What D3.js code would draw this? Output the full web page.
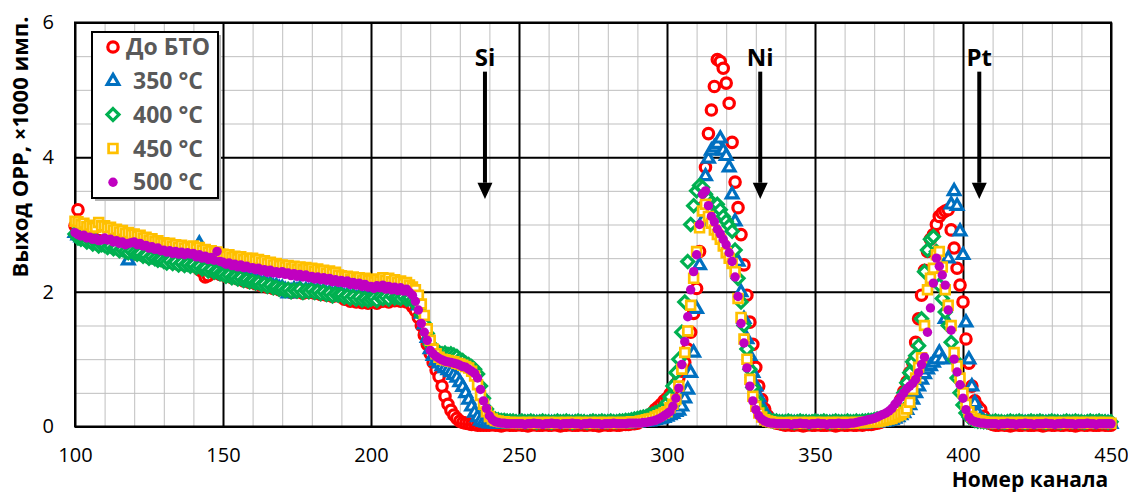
<!DOCTYPE html>
<html>
<head>
<meta charset="utf-8">
<script src="https://cdnjs.cloudflare.com/ajax/libs/d3/7.8.5/d3.min.js"></script>
<style>
  body { margin: 0; background: #fff; }
  text { font-family: "Open Sans", "Noto Sans", sans-serif; }
</style>
</head>
<body>
<div id="chart"></div>
<script>
// channel of the first value in every series, one value per channel
var firstChannel = 100;

var red = [
  2.98, 3.22, 2.92, 2.86, 2.83, 2.80, 2.81, 2.77, 2.76, 2.73,
  2.72, 2.70, 2.71, 2.67, 2.68, 2.64, 2.66, 2.62, 2.61, 2.59,
  2.59, 2.56, 2.58, 2.54, 2.55, 2.51, 2.53, 2.50, 2.48, 2.49,
  2.46, 2.44, 2.47, 2.43, 2.45, 2.41, 2.44, 2.40, 2.42, 2.39,
  2.40, 2.37, 2.33, 2.30, 2.22, 2.24, 2.30, 2.28, 2.29, 2.26,
  2.26, 2.23, 2.25, 2.21, 2.22, 2.19, 2.20, 2.16, 2.17, 2.14,
  2.15, 2.12, 2.13, 2.09, 2.11, 2.07, 2.09, 2.05, 2.06, 2.03,
  2.04, 2.01, 2.03, 1.99, 2.02, 2.00, 2.03, 1.98, 2.01, 1.99,
  2.02, 1.98, 2.00, 1.96, 1.99, 1.95, 1.97, 1.93, 1.96, 1.94,
  1.93, 1.89, 1.91, 1.86, 1.89, 1.85, 1.88, 1.84, 1.86, 1.83,
  1.85, 1.87, 1.83, 1.88, 1.86, 1.89, 1.85, 1.90, 1.87, 1.88,
  1.86, 1.89, 1.85, 1.84, 1.78, 1.72, 1.62, 1.50, 1.36, 1.22,
  1.08, 0.95, 0.84, 0.74, 0.60, 0.45, 0.33, 0.24, 0.17, 0.12,
  0.08, 0.06, 0.05, 0.04, 0.03, 0.03, 0.02, 0.02, 0.02, 0.02,
  0.02, 0.03, 0.02, 0.02, 0.01, 0.02, 0.03, 0.02, 0.02, 0.02,
  0.03, 0.02, 0.02, 0.01, 0.02, 0.03, 0.02, 0.02, 0.02, 0.03,
  0.02, 0.02, 0.03, 0.02, 0.01, 0.02, 0.02, 0.03, 0.02, 0.02,
  0.02, 0.03, 0.02, 0.02, 0.03, 0.02, 0.02, 0.01, 0.02, 0.03,
  0.02, 0.02, 0.03, 0.02, 0.02, 0.03, 0.03, 0.03, 0.04, 0.04,
  0.05, 0.07, 0.09, 0.12, 0.16, 0.20, 0.25, 0.29, 0.33, 0.38,
  0.42, 0.48, 0.55, 0.63, 0.72, 0.82, 0.95, 1.15, 1.40, 1.68,
  2.05, 2.60, 3.25, 3.85, 4.35, 4.70, 5.05, 5.45, 5.42, 5.32,
  5.10, 4.80, 4.22, 3.63, 3.25, 2.85, 2.40, 1.95, 1.55, 1.22,
  0.88, 0.60, 0.40, 0.26, 0.16, 0.10, 0.07, 0.05, 0.04, 0.03,
  0.02, 0.03, 0.02, 0.02, 0.03, 0.02, 0.01, 0.02, 0.03, 0.02,
  0.02, 0.03, 0.02, 0.02, 0.02, 0.03, 0.02, 0.01, 0.02, 0.03,
  0.02, 0.02, 0.03, 0.02, 0.02, 0.03, 0.02, 0.03, 0.03, 0.03,
  0.04, 0.05, 0.06, 0.08, 0.10, 0.13, 0.17, 0.22, 0.30, 0.40,
  0.52, 0.66, 0.80, 0.95, 1.25, 1.60, 1.95, 2.32, 2.60, 2.78,
  2.85, 3.00, 3.12, 3.17, 3.20, 3.22, 2.92, 2.65, 2.35, 2.10,
  1.85, 1.30, 0.94, 0.60, 0.38, 0.30, 0.25, 0.15, 0.08, 0.05,
  0.03, 0.02, 0.02, 0.03, 0.02, 0.02, 0.01, 0.02, 0.03, 0.02,
  0.02, 0.03, 0.02, 0.02, 0.02, 0.03, 0.02, 0.01, 0.02, 0.03,
  0.02, 0.02, 0.03, 0.02, 0.02, 0.03, 0.02, 0.02, 0.01, 0.02,
  0.03, 0.02, 0.02, 0.03, 0.02, 0.02, 0.02, 0.03, 0.02, 0.02,
  0.02
];

var blue = [
  2.88, 2.84, 2.81, 2.80, 2.77, 2.78, 2.74, 2.75, 2.72, 2.71,
  2.71, 2.68, 2.70, 2.66, 2.67, 2.64, 2.68, 2.62, 2.47, 2.60,
  2.60, 2.57, 2.59, 2.55, 2.56, 2.52, 2.54, 2.51, 2.49, 2.50,
  2.47, 2.45, 2.48, 2.44, 2.46, 2.42, 2.45, 2.41, 2.43, 2.40,
  2.42, 2.38, 2.72, 2.36, 2.37, 2.33, 2.35, 2.31, 2.32, 2.29,
  2.28, 2.25, 2.27, 2.23, 2.24, 2.21, 2.23, 2.19, 2.20, 2.17,
  2.18, 2.15, 2.16, 2.12, 2.14, 2.10, 2.12, 2.08, 2.09, 2.06,
  2.06, 2.03, 1.98, 2.01, 2.04, 2.02, 2.05, 2.00, 2.03, 2.01,
  2.04, 2.00, 2.02, 1.98, 2.01, 1.97, 1.99, 1.95, 1.98, 1.96,
  1.97, 1.93, 1.95, 1.91, 1.94, 1.90, 1.93, 1.89, 1.91, 1.88,
  1.90, 1.92, 1.88, 1.93, 1.91, 1.94, 1.90, 1.95, 1.92, 1.93,
  1.91, 1.94, 1.90, 1.92, 1.88, 1.86, 1.80, 1.68, 1.52, 1.32,
  1.15, 1.05, 0.98, 0.94, 0.90, 0.87, 0.84, 0.81, 0.77, 0.73,
  0.66, 0.59, 0.50, 0.40, 0.30, 0.21, 0.14, 0.09, 0.07, 0.06,
  0.05, 0.05, 0.04, 0.05, 0.05, 0.04, 0.05, 0.05, 0.04, 0.05,
  0.05, 0.04, 0.05, 0.05, 0.04, 0.05, 0.05, 0.04, 0.05, 0.04,
  0.05, 0.05, 0.04, 0.05, 0.04, 0.05, 0.05, 0.04, 0.05, 0.05,
  0.04, 0.05, 0.05, 0.04, 0.05, 0.04, 0.05, 0.05, 0.04, 0.05,
  0.05, 0.04, 0.05, 0.05, 0.04, 0.05, 0.05, 0.05, 0.06, 0.06,
  0.06, 0.07, 0.07, 0.08, 0.08, 0.09, 0.10, 0.11, 0.12, 0.13,
  0.15, 0.17, 0.19, 0.22, 0.24, 0.30, 0.42, 0.55, 0.80, 1.10,
  1.75, 2.40, 3.05, 3.72, 3.98, 4.10, 4.15, 4.20, 4.28, 4.10,
  4.02, 3.85, 3.45, 3.05, 2.45, 2.00, 1.60, 1.30, 1.05, 0.80,
  0.60, 0.44, 0.30, 0.20, 0.13, 0.09, 0.07, 0.06, 0.05, 0.05,
  0.05, 0.04, 0.05, 0.05, 0.04, 0.05, 0.04, 0.05, 0.05, 0.04,
  0.05, 0.05, 0.04, 0.05, 0.04, 0.05, 0.05, 0.04, 0.05, 0.05,
  0.04, 0.05, 0.05, 0.04, 0.05, 0.05, 0.05, 0.05, 0.06, 0.06,
  0.06, 0.06, 0.07, 0.07, 0.08, 0.09, 0.10, 0.12, 0.14, 0.17,
  0.20, 0.25, 0.32, 0.40, 0.50, 0.60, 0.70, 0.78, 0.85, 0.90,
  0.95, 1.00, 1.10, 1.00, 1.60, 2.50, 3.30, 3.50, 3.28, 2.90,
  2.55, 1.55, 1.00, 0.60, 0.35, 0.20, 0.12, 0.08, 0.06, 0.05,
  0.05, 0.04, 0.05, 0.05, 0.04, 0.05, 0.05, 0.04, 0.05, 0.04,
  0.05, 0.05, 0.04, 0.05, 0.04, 0.05, 0.05, 0.04, 0.05, 0.05,
  0.04, 0.05, 0.05, 0.04, 0.05, 0.04, 0.05, 0.05, 0.04, 0.05,
  0.05, 0.04, 0.05, 0.05, 0.04, 0.05, 0.05, 0.04, 0.05, 0.05,
  0.04
];

var green = [
  2.86, 2.80, 2.78, 2.79, 2.74, 2.76, 2.71, 2.73, 2.68, 2.70,
  2.69, 2.66, 2.68, 2.64, 2.65, 2.61, 2.63, 2.60, 2.58, 2.61,
  2.58, 2.56, 2.57, 2.53, 2.54, 2.50, 2.52, 2.49, 2.47, 2.48,
  2.45, 2.43, 2.46, 2.42, 2.44, 2.40, 2.43, 2.39, 2.41, 2.38,
  2.40, 2.36, 2.38, 2.34, 2.35, 2.31, 2.33, 2.29, 2.30, 2.27,
  2.26, 2.23, 2.25, 2.21, 2.22, 2.19, 2.21, 2.17, 2.18, 2.15,
  2.16, 2.13, 2.14, 2.10, 2.12, 2.08, 2.10, 2.06, 2.07, 2.04,
  2.05, 2.02, 2.04, 2.00, 2.03, 2.01, 2.04, 1.99, 2.02, 2.00,
  2.03, 1.99, 2.01, 1.97, 2.00, 1.96, 1.98, 1.94, 1.97, 1.95,
  1.96, 1.92, 1.94, 1.90, 1.93, 1.89, 1.92, 1.88, 1.90, 1.87,
  1.89, 1.91, 1.87, 1.92, 1.90, 1.93, 1.89, 1.94, 1.91, 1.92,
  1.90, 1.93, 1.89, 1.91, 1.87, 1.85, 1.78, 1.66, 1.53, 1.38,
  1.22, 1.15, 1.12, 1.10, 1.08, 1.09, 1.07, 1.08, 1.06, 1.04,
  1.00, 0.98, 0.94, 0.92, 0.89, 0.85, 0.78, 0.60, 0.42, 0.26,
  0.17, 0.13, 0.11, 0.10, 0.09, 0.09, 0.08, 0.08, 0.08, 0.07,
  0.07, 0.08, 0.07, 0.07, 0.08, 0.07, 0.06, 0.07, 0.08, 0.07,
  0.07, 0.06, 0.07, 0.08, 0.07, 0.07, 0.08, 0.07, 0.06, 0.07,
  0.08, 0.07, 0.07, 0.06, 0.07, 0.08, 0.07, 0.07, 0.08, 0.07,
  0.07, 0.08, 0.07, 0.07, 0.08, 0.08, 0.09, 0.09, 0.10, 0.11,
  0.12, 0.13, 0.14, 0.15, 0.17, 0.18, 0.20, 0.22, 0.24, 0.28,
  0.35, 0.44, 0.60, 0.80, 1.00, 1.40, 1.85, 2.45, 3.00, 3.28,
  3.50, 3.58, 3.55, 3.45, 3.38, 3.32, 3.28, 3.30, 3.22, 3.12,
  3.05, 2.98, 2.90, 2.62, 2.20, 1.85, 1.50, 1.15, 0.85, 0.58,
  0.40, 0.27, 0.18, 0.13, 0.10, 0.09, 0.08, 0.08, 0.07, 0.07,
  0.07, 0.08, 0.07, 0.06, 0.07, 0.08, 0.07, 0.07, 0.06, 0.07,
  0.08, 0.07, 0.07, 0.08, 0.07, 0.06, 0.07, 0.08, 0.07, 0.07,
  0.07, 0.08, 0.07, 0.07, 0.08, 0.07, 0.08, 0.08, 0.09, 0.09,
  0.10, 0.11, 0.12, 0.13, 0.15, 0.17, 0.20, 0.24, 0.30, 0.38,
  0.50, 0.65, 0.80, 0.96, 1.05, 1.20, 1.60, 2.30, 2.62, 2.78,
  2.82, 2.60, 2.10, 1.90, 1.70, 1.50, 1.25, 1.00, 0.72, 0.50,
  0.32, 0.20, 0.14, 0.11, 0.09, 0.08, 0.08, 0.07, 0.07, 0.07,
  0.07, 0.08, 0.07, 0.07, 0.06, 0.07, 0.08, 0.07, 0.07, 0.08,
  0.07, 0.06, 0.07, 0.08, 0.07, 0.07, 0.08, 0.07, 0.06, 0.07,
  0.08, 0.07, 0.07, 0.06, 0.07, 0.08, 0.07, 0.07, 0.08, 0.07,
  0.07, 0.06, 0.07, 0.08, 0.07, 0.07, 0.08, 0.07, 0.07, 0.06,
  0.07
];

var orange = [
  3.05, 3.04, 3.00, 3.02, 2.97, 2.99, 2.95, 2.96, 3.03, 2.98,
  2.98, 2.95, 2.96, 2.92, 2.93, 2.89, 2.91, 2.87, 2.88, 2.85,
  2.86, 2.83, 2.84, 2.80, 2.81, 2.77, 2.79, 2.75, 2.76, 2.73,
  2.73, 2.70, 2.72, 2.68, 2.70, 2.66, 2.69, 2.65, 2.67, 2.64,
  2.68, 2.64, 2.66, 2.62, 2.63, 2.59, 2.61, 2.58, 2.59, 2.56,
  2.56, 2.53, 2.55, 2.51, 2.53, 2.49, 2.52, 2.48, 2.50, 2.47,
  2.50, 2.46, 2.48, 2.44, 2.46, 2.42, 2.44, 2.40, 2.42, 2.39,
  2.40, 2.37, 2.39, 2.35, 2.38, 2.34, 2.37, 2.33, 2.36, 2.34,
  2.35, 2.31, 2.34, 2.30, 2.32, 2.28, 2.31, 2.27, 2.29, 2.25,
  2.24, 2.21, 2.23, 2.19, 2.22, 2.18, 2.21, 2.17, 2.20, 2.17,
  2.18, 2.15, 2.19, 2.16, 2.21, 2.17, 2.20, 2.15, 2.18, 2.14,
  2.16, 2.12, 2.14, 2.10, 2.07, 2.03, 1.95, 1.82, 1.65, 1.45,
  1.28, 1.15, 1.08, 1.03, 1.00, 0.99, 0.98, 0.97, 0.96, 0.94,
  0.93, 0.91, 0.89, 0.87, 0.82, 0.75, 0.62, 0.46, 0.33, 0.22,
  0.15, 0.11, 0.09, 0.08, 0.07, 0.07, 0.06, 0.06, 0.06, 0.05,
  0.06, 0.05, 0.06, 0.06, 0.05, 0.06, 0.05, 0.06, 0.06, 0.05,
  0.06, 0.06, 0.05, 0.06, 0.05, 0.06, 0.06, 0.05, 0.06, 0.06,
  0.05, 0.06, 0.06, 0.05, 0.06, 0.05, 0.06, 0.06, 0.05, 0.06,
  0.06, 0.05, 0.06, 0.06, 0.05, 0.06, 0.06, 0.06, 0.07, 0.07,
  0.07, 0.08, 0.09, 0.10, 0.11, 0.12, 0.14, 0.16, 0.18, 0.20,
  0.22, 0.28, 0.33, 0.40, 0.60, 0.85, 1.10, 1.42, 1.80, 2.20,
  2.60, 2.95, 3.20, 3.30, 3.12, 3.02, 2.92, 2.85, 2.78, 2.68,
  2.58, 2.50, 2.42, 2.30, 1.90, 1.62, 1.30, 1.00, 0.70, 0.45,
  0.30, 0.20, 0.14, 0.10, 0.08, 0.07, 0.06, 0.06, 0.05, 0.05,
  0.06, 0.05, 0.06, 0.06, 0.05, 0.06, 0.05, 0.06, 0.06, 0.05,
  0.06, 0.06, 0.05, 0.06, 0.05, 0.06, 0.06, 0.05, 0.06, 0.06,
  0.05, 0.06, 0.06, 0.05, 0.06, 0.06, 0.06, 0.06, 0.07, 0.07,
  0.07, 0.07, 0.08, 0.09, 0.10, 0.11, 0.12, 0.14, 0.16, 0.18,
  0.21, 0.26, 0.36, 0.55, 0.72, 0.88, 1.02, 1.50, 2.03, 2.20,
  2.35, 2.55, 2.60, 2.37, 2.03, 1.80, 1.50, 1.10, 0.90, 0.72,
  0.50, 0.33, 0.22, 0.15, 0.11, 0.09, 0.08, 0.07, 0.06, 0.06,
  0.06, 0.05, 0.06, 0.06, 0.05, 0.06, 0.05, 0.06, 0.06, 0.05,
  0.06, 0.06, 0.05, 0.06, 0.05, 0.06, 0.06, 0.05, 0.06, 0.06,
  0.05, 0.06, 0.06, 0.05, 0.06, 0.05, 0.06, 0.06, 0.05, 0.06,
  0.06, 0.05, 0.06, 0.06, 0.05, 0.06, 0.06, 0.05, 0.06, 0.06,
  0.05
];

var violet = [
  2.88, 2.85, 2.83, 2.84, 2.80, 2.81, 2.78, 2.79, 2.76, 2.77,
  2.80, 2.77, 2.78, 2.74, 2.76, 2.72, 2.74, 2.70, 2.72, 2.73,
  2.74, 2.70, 2.72, 2.68, 2.69, 2.65, 2.67, 2.63, 2.65, 2.61,
  2.62, 2.59, 2.61, 2.57, 2.60, 2.56, 2.59, 2.55, 2.58, 2.56,
  2.57, 2.52, 2.55, 2.50, 2.53, 2.48, 2.51, 2.47, 2.60, 2.45,
  2.44, 2.41, 2.43, 2.39, 2.41, 2.37, 2.40, 2.36, 2.38, 2.35,
  2.36, 2.33, 2.35, 2.31, 2.33, 2.29, 2.32, 2.28, 2.30, 2.27,
  2.30, 2.26, 2.28, 2.24, 2.27, 2.23, 2.26, 2.22, 2.25, 2.21,
  2.23, 2.19, 2.22, 2.18, 2.21, 2.17, 2.20, 2.15, 2.18, 2.14,
  2.17, 2.13, 2.16, 2.11, 2.14, 2.10, 2.13, 2.08, 2.11, 2.07,
  2.08, 2.05, 2.09, 2.06, 2.10, 2.04, 2.08, 2.03, 2.07, 2.02,
  2.06, 2.01, 2.04, 1.99, 1.95, 1.86, 1.73, 1.53, 1.40, 1.28,
  1.13, 1.08, 1.04, 1.01, 0.99, 0.97, 0.96, 0.95, 0.94, 0.93,
  0.91, 0.89, 0.88, 0.85, 0.82, 0.79, 0.72, 0.55, 0.38, 0.27,
  0.16, 0.10, 0.07, 0.06, 0.05, 0.05, 0.04, 0.04, 0.04, 0.04,
  0.04, 0.04, 0.03, 0.04, 0.04, 0.05, 0.04, 0.04, 0.03, 0.04,
  0.04, 0.05, 0.04, 0.04, 0.03, 0.04, 0.04, 0.04, 0.05, 0.04,
  0.04, 0.03, 0.04, 0.04, 0.05, 0.04, 0.04, 0.04, 0.03, 0.04,
  0.04, 0.04, 0.05, 0.04, 0.04, 0.04, 0.04, 0.05, 0.05, 0.05,
  0.05, 0.05, 0.06, 0.06, 0.07, 0.08, 0.09, 0.11, 0.13, 0.16,
  0.19, 0.22, 0.30, 0.42, 0.57, 0.92, 1.26, 1.63, 2.03, 2.30,
  2.55, 3.00, 3.45, 3.50, 3.28, 3.12, 3.04, 2.93, 2.86, 2.78,
  2.70, 2.58, 2.45, 2.22, 1.93, 1.53, 1.24, 0.87, 0.60, 0.38,
  0.25, 0.16, 0.11, 0.08, 0.06, 0.05, 0.05, 0.04, 0.04, 0.04,
  0.04, 0.04, 0.03, 0.04, 0.04, 0.05, 0.04, 0.04, 0.03, 0.04,
  0.04, 0.05, 0.04, 0.04, 0.03, 0.04, 0.04, 0.04, 0.05, 0.04,
  0.04, 0.04, 0.05, 0.05, 0.06, 0.07, 0.08, 0.09, 0.10, 0.11,
  0.12, 0.14, 0.16, 0.18, 0.20, 0.23, 0.27, 0.33, 0.38, 0.44,
  0.50, 0.56, 0.60, 0.64, 0.70, 0.80, 0.92, 1.03, 1.40, 1.76,
  2.13, 2.50, 2.38, 2.25, 2.10, 1.73, 1.43, 1.00, 0.81, 0.62,
  0.42, 0.25, 0.14, 0.09, 0.07, 0.06, 0.05, 0.05, 0.04, 0.04,
  0.04, 0.04, 0.03, 0.04, 0.04, 0.05, 0.04, 0.04, 0.03, 0.04,
  0.04, 0.05, 0.04, 0.04, 0.03, 0.04, 0.04, 0.04, 0.05, 0.04,
  0.04, 0.03, 0.04, 0.04, 0.05, 0.04, 0.04, 0.04, 0.03, 0.04,
  0.04, 0.04, 0.05, 0.04, 0.04, 0.03, 0.04, 0.04, 0.04, 0.04,
  0.04
];

var seriesNames = ["До БТО", "350 °C", "400 °C", "450 °C", "500 °C"];
var xTicks = [100, 150, 200, 250, 300, 350, 400, 450];
var yTicks = [0, 2, 4, 6];
var peakLabels = ["Si", "Ni", "Pt"];
var peakChannels = [238.5, 331.5, 405.5];

var width = 1128,
    height = 493,
    margin = {top: 22.5, right: 17, bottom: 66.5, left: 75};
var plotW = width - margin.left - margin.right,
    plotH = height - margin.top - margin.bottom;

var styles = [
  {shape: "circle", color: "#ff0000"},
  {shape: "triangle", color: "#0070c0"},
  {shape: "diamond", color: "#00b050"},
  {shape: "square", color: "#ffc000"},
  {shape: "dot", color: "#c000c0"}
];

var x = d3.scaleLinear().domain([100, 450]).range([0, plotW]);
var y = d3.scaleLinear().domain([0, 6]).range([plotH, 0]);

var svg = d3.select("#chart").append("svg")
    .attr("width", width)
    .attr("height", height)
    .style("display", "block");

var g = svg.append("g")
    .attr("transform", "translate(" + margin.left + "," + margin.top + ")");

// grid: minor grey, major black
function grid(values, vertical, color, w) {
  var ax = vertical
    ? d3.axisBottom(x).tickValues(values).tickSize(-plotH).tickFormat("")
    : d3.axisLeft(y).tickValues(values).tickSize(-plotW).tickFormat("");
  var gg = g.append("g")
    .attr("transform", vertical ? "translate(0," + plotH + ")" : null)
    .call(ax);
  gg.select(".domain").remove();
  gg.selectAll("line").attr("stroke", color).attr("stroke-width", w);
}
grid(d3.range(100, 451, 10), true, "#bfbfbf", 1);
grid(d3.range(0, 6.01, 0.5), false, "#bfbfbf", 1);
grid(xTicks, true, "#000", 2);
grid(yTicks, false, "#000", 2);

g.append("rect")
  .attr("width", plotW)
  .attr("height", plotH)
  .attr("fill", "none")
  .attr("stroke", "#000")
  .attr("stroke-width", 2);

// tick labels
var xAxis = g.append("g")
    .attr("transform", "translate(0," + plotH + ")")
    .call(d3.axisBottom(x).tickValues(xTicks).tickSize(0).tickPadding(21).tickFormat(d3.format("d")));
var yAxis = g.append("g")
    .call(d3.axisLeft(y).tickValues(yTicks).tickSize(0).tickPadding(21).tickFormat(d3.format("d")));
[xAxis, yAxis].forEach(function(a) {
  a.select(".domain").remove();
  a.selectAll("text")
    .style("font-family", "'Open Sans', sans-serif")
    .style("font-size", "20px")
    .attr("fill", "#000");
});

// marker shapes
function markerPath(shape) {
  if (shape == "circle") return d3.symbol(d3.symbolCircle, Math.PI * 5.2 * 5.2)();
  if (shape == "dot") return d3.symbol(d3.symbolCircle, Math.PI * 4.7 * 4.7)();
  if (shape == "triangle") return "M0,-6.4L5.8,3.7L-5.8,3.7Z";
  if (shape == "diamond") return "M0,-6L6,0L0,6L-6,0Z";
  return "M-4.4,-4.4H4.4V4.4H-4.4Z";
}
function styleMarker(sel, st) {
  if (st.shape == "dot") {
    sel.attr("fill", st.color).attr("stroke", "none");
  } else {
    sel.attr("fill", "#fff")
      .attr("stroke", st.color)
      .attr("stroke-width", st.shape == "square" ? 2.7 : 3.2);
  }
}

var allSeries = [red, blue, green, orange, violet];

allSeries.forEach(function(values, k) {
  var st = styles[k];
  g.append("g").selectAll("path")
    .data(values)
    .enter()
    .append("path")
    .attr("d", markerPath(st.shape))
    .attr("transform", function(d, i) {
      return "translate(" + x(firstChannel + i) + "," + y(d) + ")";
    })
    .call(styleMarker, st);
});

// element arrows
var peaks = g.selectAll(".peak")
  .data(peakLabels)
  .enter()
  .append("g")
  .attr("transform", function(d, i) { return "translate(" + x(peakChannels[i]) + ",0)"; });

peaks.append("text")
  .attr("y", y(5.35))
  .attr("text-anchor", "middle")
  .style("font-size", "24px")
  .style("font-weight", "bold")
  .text(function(d) { return d; });

peaks.append("line")
  .attr("y1", y(5.27))
  .attr("y2", y(3.62))
  .attr("stroke", "#000")
  .attr("stroke-width", 4);

peaks.append("path")
  .attr("d", "M-7.5," + y(3.62) + "L7.5," + y(3.62) + "L0," + y(3.38) + "Z")
  .attr("fill", "#000");

// legend
var legend = svg.append("g").attr("transform", "translate(92,32)");
legend.append("rect")
  .attr("x", 3).attr("y", 3)
  .attr("width", 126).attr("height", 166)
  .attr("fill", "#b3b3b3");
legend.append("rect")
  .attr("width", 126).attr("height", 166)
  .attr("fill", "#fff")
  .attr("stroke", "#000")
  .attr("stroke-width", 2);

var items = legend.selectAll(".item")
  .data(seriesNames)
  .enter()
  .append("g")
  .attr("transform", function(d, i) { return "translate(0," + (15 + i * 33.8) + ")"; });

items.append("path")
  .attr("transform", "translate(21,0)")
  .attr("d", function(d, i) { return markerPath(styles[i].shape); })
  .each(function(d, i) { d3.select(this).call(styleMarker, styles[i]); });

items.append("text")
  .attr("x", 76)
  .attr("dy", "0.36em")
  .attr("text-anchor", "middle")
  .attr("fill", "#595959")
  .style("font-size", "23px")
  .style("font-weight", "bold")
  .text(function(d) { return d; });

// axis titles
svg.append("text")
  .attr("transform", "translate(28,147) rotate(-90)")
  .attr("text-anchor", "middle")
  .style("font-size", "22px")
  .style("font-weight", "bold")
  .text("Выход ОРР, ×1000 имп.");

svg.append("text")
  .attr("x", 1030)
  .attr("y", 487)
  .attr("text-anchor", "middle")
  .style("font-size", "21px")
  .style("font-weight", "bold")
  .text("Номер канала");
</script>
</body>
</html>
